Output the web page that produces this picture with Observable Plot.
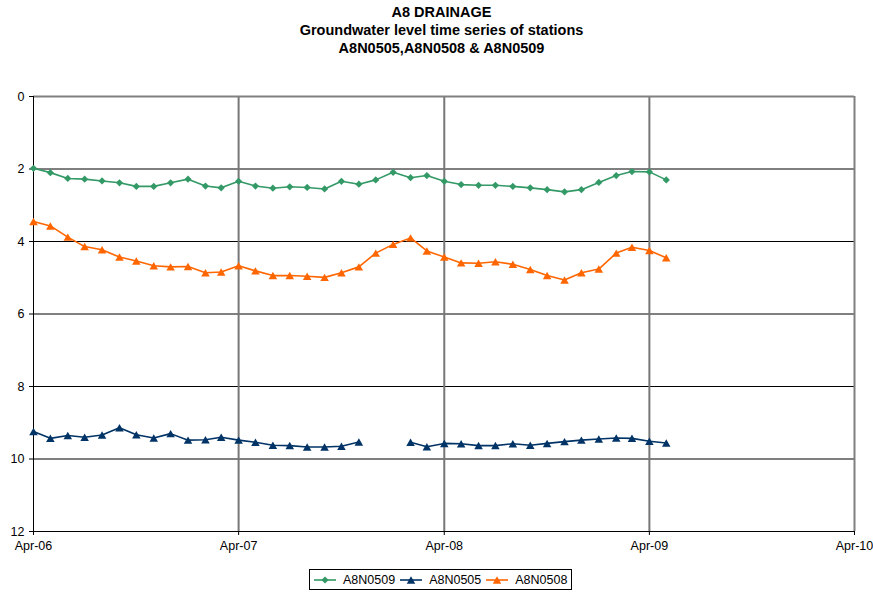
<!DOCTYPE html>
<html>
<head>
<meta charset="utf-8">
<script src="https://cdn.jsdelivr.net/npm/d3@7"></script>
<script src="https://cdn.jsdelivr.net/npm/@observablehq/plot@0.6"></script>
<style>
  body { margin: 0; background: #fff; font-family: "Liberation Sans", Arial, sans-serif; color: #000; }
  #wrap { position: relative; width: 873px; height: 592px; overflow: hidden; }
  #title { position: absolute; top: 3px; left: 0; width: 883px; text-align: center;
           font-weight: bold; font-size: 14.5px; line-height: 18px; }
  #chart { position: absolute; top: 60px; left: 0; }
  #legend { position: absolute; left: 309px; top: 569px; height: 19px; border: 1px solid #000;
            display: flex; align-items: center; padding: 0 4px; font-size: 12.5px; box-sizing: content-box; }
  #legend .item { display: flex; align-items: center; margin-right: 5px; }
  #legend .item:last-child { margin-right: 0; }
  #legend svg { margin-right: 7px; }
</style>
</head>
<body>
<div id="wrap">
  <div id="title">A8 DRAINAGE<br>Groundwater level time series of stations<br>A8N0505,A8N0508 &amp; A8N0509</div>
  <div id="chart"></div>
  <div id="legend"></div>
</div>
<script>
// Monthly readings, April 2006 – May 2009 (depth to groundwater, m)
const months = [
  "2006-04","2006-05","2006-06","2006-07","2006-08","2006-09","2006-10","2006-11","2006-12","2007-01","2007-02","2007-03",
  "2007-04","2007-05","2007-06","2007-07","2007-08","2007-09","2007-10","2007-11","2007-12","2008-01","2008-02","2008-03",
  "2008-04","2008-05","2008-06","2008-07","2008-08","2008-09","2008-10","2008-11","2008-12","2009-01","2009-02","2009-03",
  "2009-04","2009-05"
];

const a8n0509 = [
  1.98, 2.10, 2.26, 2.28, 2.33, 2.38, 2.48, 2.48, 2.38, 2.28, 2.47, 2.52,
  2.34, 2.47, 2.53, 2.49, 2.51, 2.55, 2.34, 2.42, 2.30, 2.09, 2.24, 2.18,
  2.34, 2.43, 2.45, 2.45, 2.48, 2.52, 2.57, 2.63, 2.57, 2.37, 2.18, 2.07,
  2.08, 2.30
];

const a8n0505 = [
  9.24, 9.43, 9.35, 9.40, 9.34, 9.14, 9.33, 9.42, 9.30, 9.48, 9.47, 9.40,
  9.48, 9.54, 9.62, 9.63, 9.67, 9.67, 9.65, 9.53, null, null, 9.54, 9.66,
  9.57, 9.58, 9.63, 9.63, 9.58, 9.62, 9.57, 9.52, 9.48, 9.45, 9.42, 9.43,
  9.51, 9.56
];

const a8n0508 = [
  3.45, 3.57, 3.88, 4.14, 4.23, 4.43, 4.54, 4.67, 4.70, 4.69, 4.86, 4.84,
  4.67, 4.81, 4.94, 4.94, 4.96, 4.99, 4.86, 4.70, 4.32, 4.08, 3.90, 4.26,
  4.43, 4.59, 4.60, 4.56, 4.63, 4.77, 4.94, 5.06, 4.86, 4.76, 4.32, 4.16,
  4.25, 4.45
];

const xTickLabels = ["2006-04", "2007-04", "2008-04", "2009-04", "2010-04"];
const yTicks = [0, 2, 4, 6, 8, 10, 12];

const parseMonth = d3.utcParse("%Y-%m");
const fmtMonth = d3.utcFormat("%b-%y");
const dates = months.map(parseMonth);
const xTicks = xTickLabels.map(parseMonth);

// Marker shapes centred on their bounding box
const diamond = {
  draw(ctx, size) {
    const r = Math.sqrt(size) * 0.68;
    ctx.moveTo(0, -r); ctx.lineTo(r, 0); ctx.lineTo(0, r); ctx.lineTo(-r, 0); ctx.closePath();
  }
};
const triangle = {
  draw(ctx, size) {
    const s = Math.sqrt(size), w = s * 0.8, h = s * 0.7;
    ctx.moveTo(0, -h); ctx.lineTo(w, h); ctx.lineTo(-w, h); ctx.closePath();
  }
};

const series = [
  {name: "A8N0509", values: a8n0509, color: "#339966", symbol: diamond},
  {name: "A8N0505", values: a8n0505, color: "#003366", symbol: triangle},
  {name: "A8N0508", values: a8n0508, color: "#FF6600", symbol: triangle}
];

const seriesMarks = series.flatMap(s => {
  const rows = dates.map((d, i) => ({date: d, level: s.values[i]}));
  return [
    Plot.line(rows, {x: "date", y: "level", stroke: s.color, strokeWidth: 1.6}),
    Plot.dot(rows.filter(r => r.level != null), {x: "date", y: "level", symbol: s.symbol, r: 3, fill: s.color, stroke: "none"})
  ];
});

const x0 = xTicks[0], x1 = xTicks[xTicks.length - 1];

const chart = Plot.plot({
  width: 873,
  height: 500,
  marginTop: 36,
  marginLeft: 33,
  marginRight: 19,
  marginBottom: 29,
  style: {fontFamily: "Liberation Sans, Arial, sans-serif", fontSize: "12.5px", color: "#000", background: "#fff", overflow: "visible"},
  x: {type: "utc", domain: [x0, x1]},
  y: {domain: [0, 12], reverse: true},
  marks: [
    Plot.ruleY(yTicks.slice(1, -1), {stroke: "#000", strokeWidth: 1}),
    Plot.ruleX(xTicks.slice(1, -1), {stroke: "#777", strokeWidth: 2}),
    Plot.ruleY([0], {stroke: "#808080", strokeWidth: 2}),
    Plot.ruleX([x1], {stroke: "#808080", strokeWidth: 2}),
    Plot.ruleX([x0], {stroke: "#000", strokeWidth: 1}),
    Plot.ruleY([12], {stroke: "#000", strokeWidth: 1}),
    Plot.axisY({ticks: yTicks, tickSize: 4, tickPadding: 5, label: null}),
    Plot.axisX({ticks: xTicks, tickFormat: fmtMonth, tickSize: 4, tickPadding: 6, label: null}),
    ...seriesMarks
  ]
});
document.getElementById("chart").appendChild(chart);

// Legend: line sample with marker, then station name
const legend = d3.select("#legend");
for (const s of series) {
  const item = legend.append("div").attr("class", "item");
  const svg = item.append("svg").attr("width", 22).attr("height", 12);
  svg.append("line").attr("x1", 0).attr("x2", 22).attr("y1", 6).attr("y2", 6)
    .attr("stroke", s.color).attr("stroke-width", 1.6);
  const p = d3.path();
  s.symbol.draw(p, Math.PI * 9);
  svg.append("path").attr("d", p.toString()).attr("transform", "translate(11,6)").attr("fill", s.color);
  item.append("span").text(s.name);
}
</script>
</body>
</html>
